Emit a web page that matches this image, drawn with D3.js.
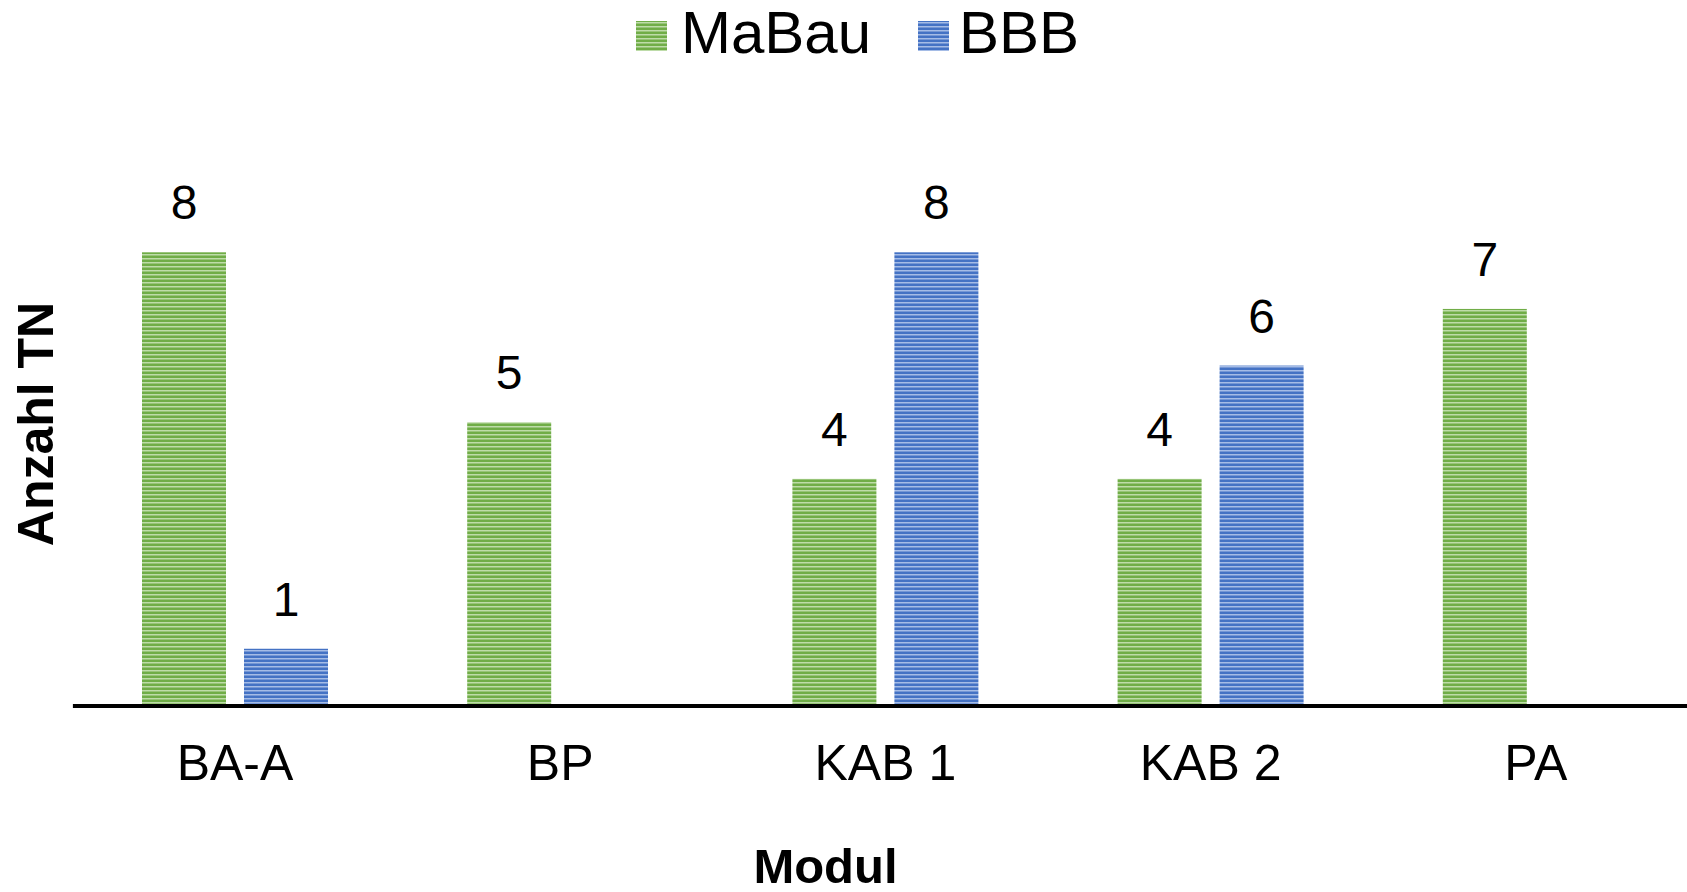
<!DOCTYPE html>
<html>
<head>
<meta charset="utf-8">
<script src="https://cdn.jsdelivr.net/npm/d3@7/dist/d3.min.js"></script>
<style>
  html, body { margin: 0; padding: 0; background: #fff; }
  svg { display: block; font-family: "Liberation Sans", Arial, sans-serif; }
</style>
</head>
<body>
<svg id="chart" width="1687" height="892"></svg>
<script>
// ---- data ----
const categories = ["BA-A", "BP", "KAB 1", "KAB 2", "PA"];
const series = ["MaBau", "BBB"];
const mabau = [8, 5, 4, 4, 7];
const bbb = [1, null, 8, 6, null];
const xTitle = "Modul";
const yTitle = "Anzahl TN";

const values = { "MaBau": mabau, "BBB": bbb };
const colors = {
  "MaBau": { dark: "#70AD47", light: "#BEDCA9" },
  "BBB":   { dark: "#4472C4", light: "#A5BCE6" }
};

const svg = d3.select("#chart");
const W = 1687, H = 892;
svg.append("rect").attr("width", W).attr("height", H).attr("fill", "#fff");

// stripe patterns
const defs = svg.append("defs");
series.forEach((s, i) => {
  const p = defs.append("pattern")
    .attr("id", "pat" + i)
    .attr("patternUnits", "userSpaceOnUse")
    .attr("width", 8).attr("height", 4);
  p.append("rect").attr("width", 8).attr("height", 4).attr("fill", colors[s].dark);
  p.append("rect").attr("y", 2).attr("width", 8).attr("height", 1.5).attr("fill", colors[s].light);
});

// scales
const x0 = d3.scaleBand().domain(categories).range([72.4, 1698.4]).padding(0);
const groupW = 186;
const x1 = d3.scaleBand().domain(series).range([0, groupW]).paddingInner(18 / 102).paddingOuter(0);
const y = d3.scaleLinear().domain([0, 8]).range([705.4, 252.3]);

// bars
const rows = [];
categories.forEach((c, ci) => {
  series.forEach((s, si) => {
    const v = values[s][ci];
    if (v !== null && v !== undefined) rows.push({ c, s, si, v });
  });
});

const g = svg.append("g");
g.selectAll("rect.bar").data(rows).enter().append("rect")
  .attr("class", "bar")
  .attr("x", d => x0(d.c) + (x0.bandwidth() - groupW) / 2 + x1(d.s))
  .attr("y", d => y(d.v))
  .attr("width", x1.bandwidth())
  .attr("height", d => y(0) - y(d.v))
  .attr("fill", d => "url(#pat" + d.si + ")");

// data labels
g.selectAll("text.lbl").data(rows).enter().append("text")
  .attr("class", "lbl")
  .attr("x", d => x0(d.c) + (x0.bandwidth() - groupW) / 2 + x1(d.s) + x1.bandwidth() / 2)
  .attr("y", d => y(d.v) - 33)
  .attr("text-anchor", "middle")
  .attr("font-size", 48)
  .attr("fill", "#000")
  .text(d => d.v);

// x axis
const axis = svg.append("g")
  .attr("transform", "translate(0,705.5)")
  .call(d3.axisBottom(x0).tickSize(0).tickPadding(39));
axis.select(".domain").attr("stroke", "#000").attr("stroke-width", 4);
axis.selectAll(".tick text")
  .attr("font-size", 50)
  .attr("font-family", "\"Liberation Sans\", Arial, sans-serif")
  .attr("fill", "#000");

// axis titles
svg.append("text")
  .attr("x", 825.5).attr("y", 883)
  .attr("text-anchor", "middle")
  .attr("font-size", 49).attr("font-weight", "bold").attr("fill", "#000")
  .text(xTitle);

svg.append("text")
  .attr("transform", "translate(53,424) rotate(-90)")
  .attr("text-anchor", "middle")
  .attr("font-size", 50).attr("font-weight", "bold").attr("fill", "#000")
  .text(yTitle);

// legend
const legendPos = [{ sx: 636, tx: 681 }, { sx: 918, tx: 959 }];
const leg = svg.append("g");
series.forEach((s, i) => {
  leg.append("rect")
    .attr("x", legendPos[i].sx).attr("y", 21)
    .attr("width", 31).attr("height", 30)
    .attr("fill", "url(#pat" + i + ")");
  leg.append("text")
    .attr("x", legendPos[i].tx).attr("y", 53)
    .attr("font-size", 60).attr("fill", "#000")
    .text(s);
});
</script>
</body>
</html>
